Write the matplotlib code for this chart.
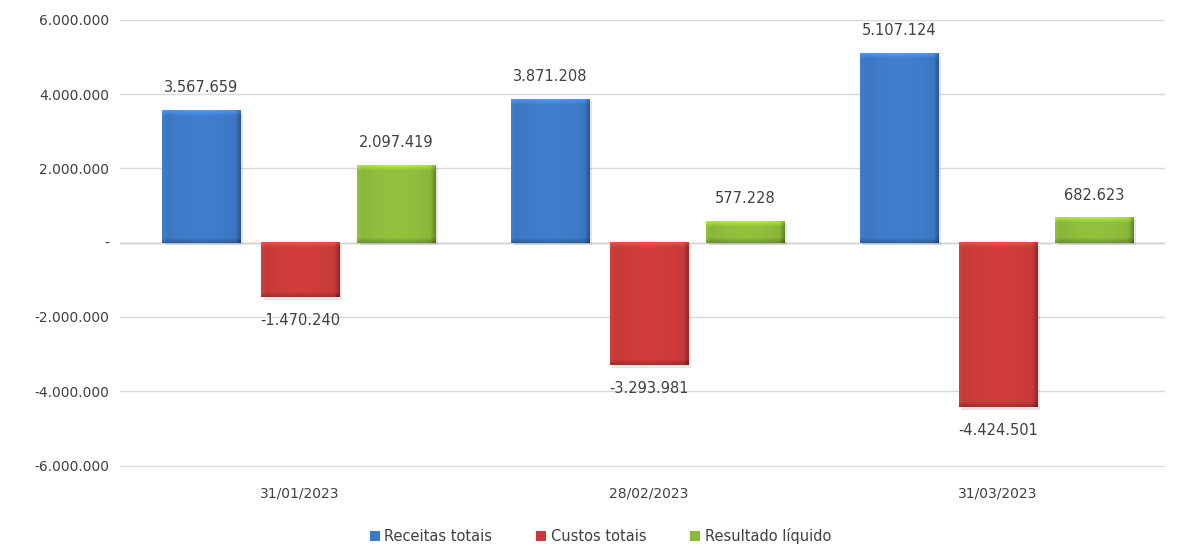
import matplotlib
matplotlib.use("Agg")
import matplotlib.pyplot as plt
from matplotlib.patches import Patch
import matplotlib.colors as mcolors
import numpy as np

# data
categories = ["31/01/2023", "28/02/2023", "31/03/2023"]
receitas = [3567659, 3871208, 5107124]
custos = [-1470240, -3293981, -4424501]
resultado = [2097419, 577228, 682623]
series_names = ["Receitas totais", "Custos totais", "Resultado líquido"]
yticks = [-6000000, -4000000, -2000000, 0, 2000000, 4000000, 6000000]

base_colors = ["#3D79C4", "#C83B39", "#8CB83B"]

PX_PER_UNIT_Y = 445 / 12000000.0


def fmt(v):
    if v == 0:
        return "-"
    return f"{v:,.0f}".replace(",", ".")


def bar_image(color, h_px, w_px=78, bev=5):
    # excel-like bevel: light top/left edge, dark right/bottom edge
    rgb = np.array(mcolors.to_rgb(color))
    h_px = max(int(round(h_px)), 2 * bev + 2)
    xi = np.arange(w_px)[None, :] * np.ones((h_px, 1))
    yi = np.arange(h_px)[:, None] * np.ones((1, w_px))
    X = xi / (w_px - 1)
    f = 0.97 + 0.08 * np.sin(np.pi * X)
    top = np.clip(1 - yi / bev, 0, 1)
    bot = np.clip(1 - (h_px - 1 - yi) / bev, 0, 1)
    left = np.clip(1 - xi / bev, 0, 1)
    right = np.clip(1 - (w_px - 1 - xi) / bev, 0, 1)
    f = f + 0.22 * top + 0.08 * left - 0.25 * right - 0.22 * bot
    img = np.clip(rgb[None, None, :] * f[:, :, None], 0, 1)
    return img


fig = plt.figure(figsize=(11.77, 5.49), dpi=100)
ax = fig.add_axes([0.102, 0.150, 0.888, 0.814])

x = np.arange(len(categories))
offsets = [-0.283, 0.0, 0.276]
width = 0.225
all_series = [receitas, custos, resultado]

for vals, off, col, name in zip(all_series, offsets, base_colors, series_names):
    bars = ax.bar(x + off, vals, width, color=col, label=name, zorder=2)
    for b, v in zip(bars, vals):
        x0, y0 = b.get_x(), b.get_y()
        w, h = b.get_width(), b.get_height()
        yb, yt = min(y0, y0 + h), max(y0, y0 + h)
        # soft shadow
        ax.add_patch(plt.Rectangle((x0 + 0.008, yb - 70000), w, yt - yb,
                                   color="#000000", alpha=0.10, zorder=1.5, lw=0))
        ax.imshow(bar_image(col, (yt - yb) * PX_PER_UNIT_Y),
                  extent=(x0, x0 + w, yb, yt),
                  aspect="auto", zorder=3, interpolation="bilinear")
        if v >= 0:
            ax.annotate(fmt(v), (b.get_x() + w / 2, yt), xytext=(0, 16),
                        textcoords="offset points", ha="center", va="center",
                        fontsize=10.5, color="#404040")
        else:
            ax.annotate(fmt(v), (b.get_x() + w / 2, yb), xytext=(0, -17),
                        textcoords="offset points", ha="center", va="center",
                        fontsize=10.5, color="#404040")

ax.set_xlim(-0.516, 2.48)
ax.set_ylim(-6030000, 6000000)
ax.set_yticks(yticks)
ax.set_yticklabels([fmt(t) for t in yticks], fontsize=10, color="#404040")
ax.set_xticks(x)
ax.set_xticklabels(categories, fontsize=10, color="#404040")
ax.tick_params(axis="x", length=0, pad=14)
ax.tick_params(axis="y", length=0, pad=8)

ax.grid(axis="y", color="#D9D9D9", linewidth=1, zorder=0)
ax.set_axisbelow(True)
for s in ax.spines.values():
    s.set_visible(False)
ax.axhline(0, color="#D0D0D0", lw=1, zorder=1)

handles = [Patch(facecolor=c, edgecolor="none") for c in base_colors]
fig.legend(handles, series_names, loc="lower center", ncol=3, frameon=False,
           fontsize=10.5, handlelength=0.7, handleheight=0.7, handletextpad=0.3,
           columnspacing=3.0, bbox_to_anchor=(0.51, -0.015),
           labelcolor="#404040")

fig.savefig("out.png", dpi=100, facecolor="white")
